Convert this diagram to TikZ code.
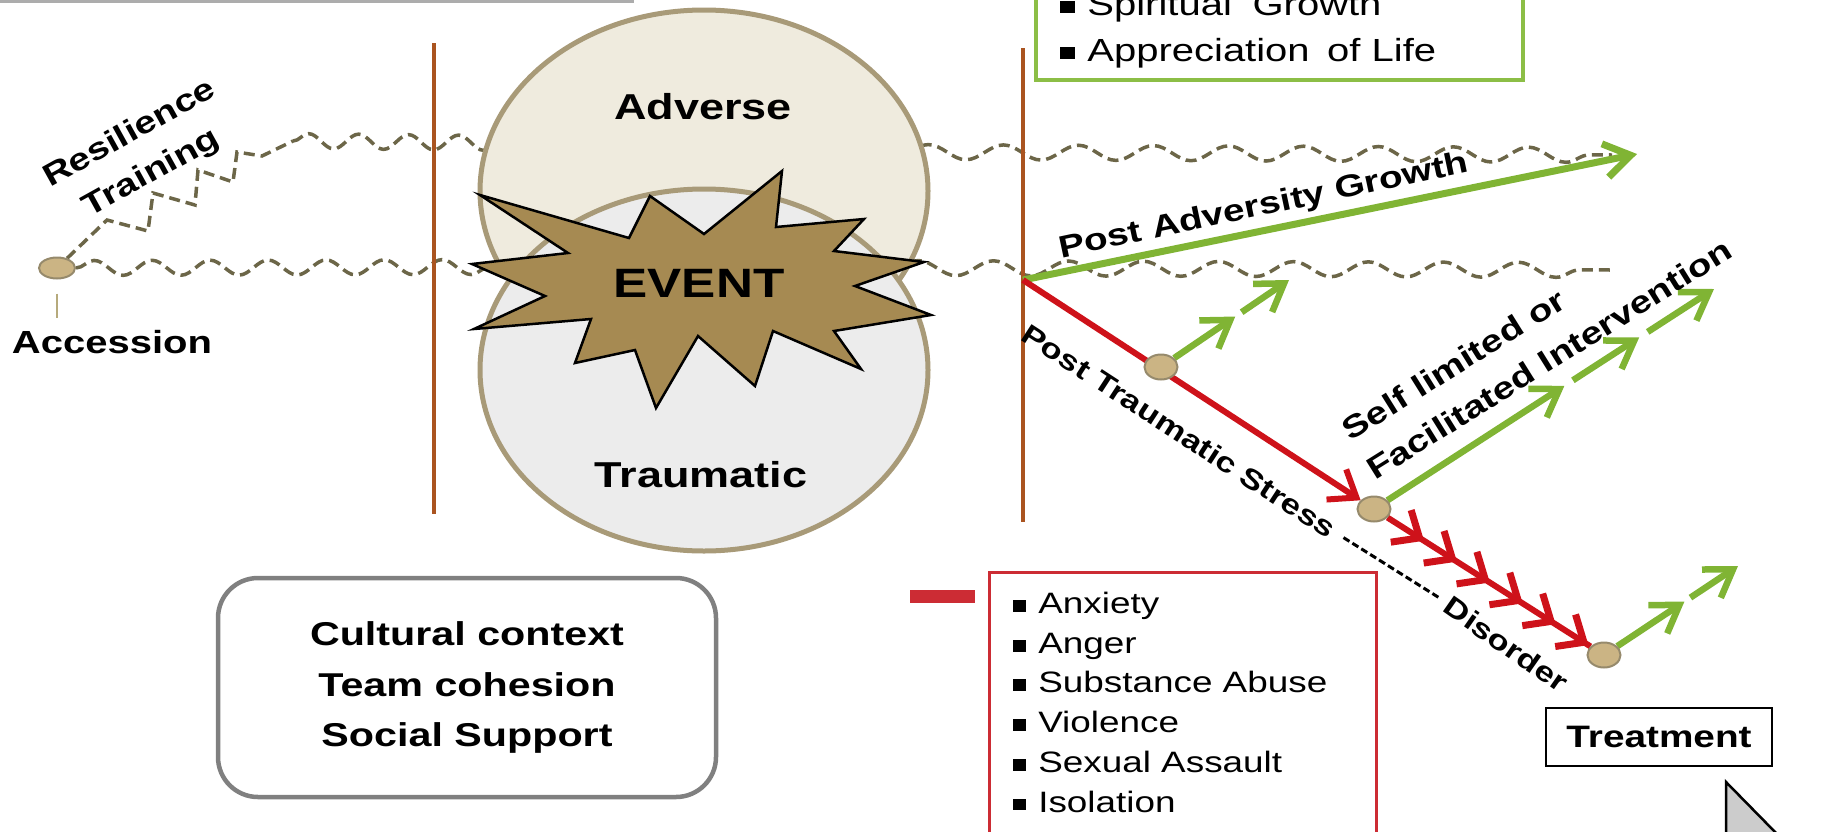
\documentclass[tikz,border=0pt]{standalone}
\usepackage{fontspec}
\setmainfont{Liberation Sans}[FakeStretch=1.25]
\usepackage{tikz}
\usetikzlibrary{arrows.meta,shapes.geometric,decorations.pathmorphing,decorations.markings,calc}

\definecolor{rodbrown}{RGB}{170,84,32}
\definecolor{ringtan}{RGB}{168,154,120}
\definecolor{advfill}{RGB}{239,235,222}
\definecolor{traufill}{RGB}{236,236,236}
\definecolor{burst}{RGB}{166,138,82}
\definecolor{beadfill}{RGB}{203,180,132}
\definecolor{beadedge}{RGB}{150,138,108}
\definecolor{growgreen}{RGB}{128,180,52}
\definecolor{boxgreen}{RGB}{140,190,70}
\definecolor{stressred}{RGB}{206,18,26}
\definecolor{harmred}{RGB}{204,44,52}
\definecolor{waveolive}{RGB}{108,102,72}
\definecolor{ctxgrey}{RGB}{128,128,128}
\definecolor{ticktan}{RGB}{182,170,124}

\pgfdeclarelayer{front}
\pgfsetlayers{main,front}

\newcommand{\sqbul}{\rule[0.06em]{0.45em}{0.4em}\hspace{0.4em}}

\tikzset{
  lbl/.style 2 args={font=\bfseries\fontsize{#1}{#2}\selectfont, inner sep=0pt},
  ring/.style={ellipse, draw=ringtan, line width=5pt, minimum width=448pt, minimum height=362pt, inner sep=0pt},
  bead/.style={ellipse, draw=beadedge, fill=beadfill, line width=2pt, minimum width=33pt, minimum height=25pt, inner sep=0pt},
  rod/.style={draw=rodbrown, line width=4.5pt},
  trail/.style={draw=waveolive, line width=3.5pt, dash pattern=on 11pt off 6pt},
  wavy/.style={trail, decorate, decoration={snake, segment length=#1, amplitude=7.5pt}},
  growarrow/.style={draw=growgreen, line width=6.5pt, -{Straight Barb[length=26pt,width=34pt]}},
  stressline/.style={draw=stressred, line width=6pt, -{Straight Barb[length=24pt,width=36pt]}},
  chevrons/.style={draw=stressred, line width=6pt, postaction={decorate, decoration={markings,
      mark=between positions 0.18 and 0.995 step 0.162 with {\arrow{Straight Barb[length=22pt,width=38pt,line width=7pt]}}}}},
  ctxbox/.style={draw=ctxgrey, line width=4.5pt, rounded corners=40pt, minimum width=498pt, minimum height=219pt, align=center},
  treatbox/.style={draw=black, line width=2.5pt, minimum width=226pt, minimum height=58pt},
  listtext/.style={font=\fontsize{#1}{39.7}\selectfont, align=left, anchor=north west, inner sep=0pt}
}

\begin{document}
\begin{tikzpicture}[x=1pt, y=-1pt]
\useasboundingbox (0,0) rectangle (1832,831);

\draw[gray!65, line width=3pt] (0,1.5) -- (634,1.5);

\begin{pgfonlayer}{front}
\node[bead, minimum width=36pt, minimum height=21pt] (accdot) at (57,268) {};
\node[bead] (d1) at (1161,367) {};
\node[bead] (d2) at (1374,509) {};
\node[bead] (d3) at (1604,655) {};
\end{pgfonlayer}

\coordinate (junc) at (1023,280);
\coordinate (topend) at (1612,155);
\coordinate (lowend) at (1612,270);

% life lines
\draw[trail] (accdot) -- (107,220) -- (148,231) -- (153,193) -- (195,205) -- (198,170)
  -- (233,182) -- (237,152) -- (262,156) -- (293,141);
\draw[wavy=50pt] (293,141) -- (500,143);
\draw[wavy=75pt] (905,152) -- (topend);
\draw[wavy=58pt] (accdot) -- (495,267);
\draw[wavy=75pt] (895,268) -- (lowend);

\draw[rod] (434,43) -- (434,514);
\draw[rod] (1023,48) -- (1023,522);

% the event
\node[ring, fill=advfill] (adv) at (704,191) {};
\node[ring, fill=traufill] (trau) at (704,370) {};
\draw[line width=2.5pt, fill=burst] (480,195) -- (629,238) -- (650,196) -- (704,234) -- (782,171)
  -- (776,227) -- (864,219) -- (834,251) -- (924,262) -- (855,286) -- (931,315) -- (834,331)
  -- (861,369) -- (773,331) -- (755,386) -- (698,336) -- (656,408) -- (635,350) -- (575,363)
  -- (591,319) -- (474,329) -- (545,296) -- (472,264) -- (568,253) -- cycle;
\node[lbl={41}{41}] (evt) at (699,283) {EVENT};
\node[lbl={36}{36}] (advtxt) at (703,107) {Adverse};
\node[lbl={36}{36}] (trautxt) at (701,475) {Traumatic};

\node[lbl={32}{32}, anchor=base] (acctxt) at (112,353) {Accession};
\draw[ticktan, line width=2pt, shorten <=14pt, shorten >=12pt] (accdot.south) -- (accdot.south |- acctxt.north);
\node[lbl={31}{45}, rotate=29, align=center] (restxt) at (141,154) {Resilience\\Training};

% outcomes
\coordinate (pagend) at (1637,154);
\coordinate (g1) at (1289,280);
\coordinate (g2) at (1714,289);
\coordinate (g3) at (1738,566);
\draw[growarrow, line width=7pt] (junc) -- (pagend);
\draw[stressline] (junc) -- (d2);
\draw[chevrons] (d2) -- (d3);
\draw[growarrow] (d1) -- ($(d1)!.58!(g1)$);
\draw[growarrow] ($(d1)!.63!(g1)$) -- (g1);
\draw[growarrow] (d2) -- ($(d2)!.56!(g2)$);
\draw[growarrow] ($(d2)!.585!(g2)$) -- ($(d2)!.78!(g2)$);
\draw[growarrow] ($(d2)!.805!(g2)$) -- (g2);
\draw[growarrow] (d3) -- ($(d3)!.6!(g3)$);
\draw[growarrow] ($(d3)!.645!(g3)$) -- (g3);

\node[lbl={31}{31}, rotate=12] (pagtxt) at (1264,207) {Post Adversity Growth};
\node[lbl={28}{28}, rotate=-33] (ptstxt) at (1179,431) {Post Traumatic Stress};
\node[lbl={28}{28}, rotate=-35] (distxt) at (1506,644) {Disorder};
\draw[line width=3pt, dash pattern=on 7pt off 3.5pt, shorten <=12pt, shorten >=8pt] (ptstxt.east) -- (distxt.west);
\node[lbl={31}{46}, rotate=32, align=left, anchor=west] (sltxt) at (1357,452) {Self limited or\\Facilitated Intervention};

% boxes
\draw[boxgreen, line width=3.5pt] (1036,-30) rectangle (1523,80);
\node[listtext=32, font=\fontsize{32}{46}\selectfont] (gains) at (1060,-8)
  {\sqbul Spiritual\hspace{0.3em} Growth\\\sqbul Appreciation\hspace{0.2em} of Life};

\node[ctxbox, lbl={33}{50.5}] (ctx) at (467,687.5) {Cultural context\\Team cohesion\\Social Support};
\node[treatbox, lbl={31}{31}] (treat) at (1659,737) {Treatment};

\node[fill=harmred, minimum width=65pt, minimum height=13pt, inner sep=0pt] (minus) at (942,596) {};
\draw[harmred, line width=3pt] (989,572) rectangle (1376,850);
\node[listtext=29.5] (harms) at (1013,592)
  {\sqbul Anxiety\\\sqbul Anger\\\sqbul Substance Abuse\\\sqbul Violence\\\sqbul Sexual Assault\\\sqbul Isolation};

\draw[fill=gray!40, line width=2.5pt] (1726,782) -- (1778,835) -- (1726,835) -- cycle;
\end{tikzpicture}
\end{document}
